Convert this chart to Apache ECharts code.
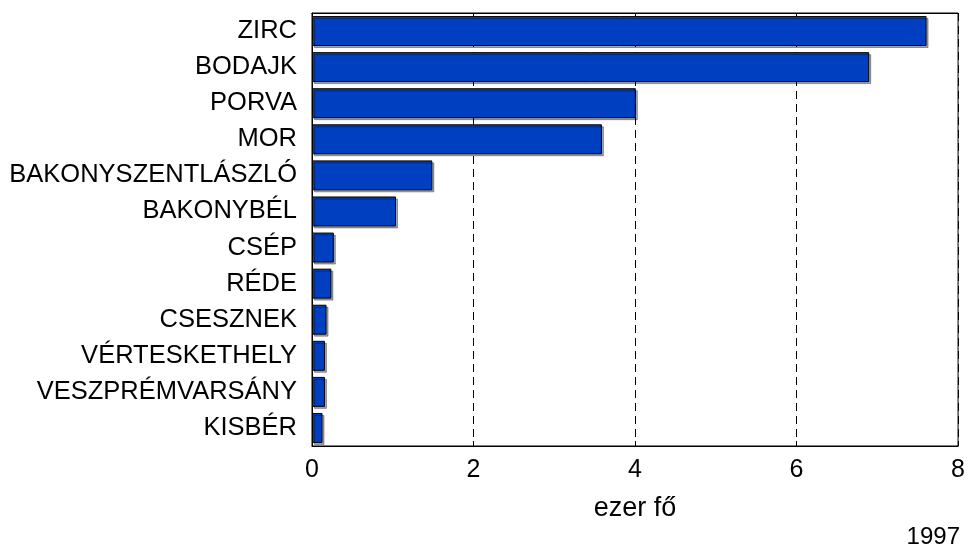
<!DOCTYPE html>
<html>
<head>
<meta charset="utf-8">
<script src="https://cdn.jsdelivr.net/npm/echarts@6/dist/echarts.min.js"></script>
<style>
  html, body { margin: 0; padding: 0; background: #fff; }
  #chart { width: 968px; height: 549px; }
</style>
</head>
<body>
<div id="chart"></div>
<script>
// települések, felülről lefelé
const places = ['ZIRC', 'BODAJK', 'PORVA', 'MOR', 'BAKONYSZENTLÁSZLÓ', 'BAKONYBÉL',
  'CSÉP', 'RÉDE', 'CSESZNEK', 'VÉRTESKETHELY', 'VESZPRÉMVARSÁNY', 'KISBÉR']
const values = [7.61, 6.9, 4.01, 3.59, 1.49, 1.04, 0.27, 0.24, 0.18, 0.16, 0.16, 0.13]
const xTicks = [0, 2, 4, 6, 8]
const axisTitle = 'ezer fő'
const yearNote = '1997'

const font = 'Liberation Sans, Arial, sans-serif'
const fs = 25
const chart = echarts.init(document.getElementById('chart'))
chart.setOption({
  animation: false,
  backgroundColor: '#fff',
  grid: { left: 312, right: 8, top: 13, bottom: 103, show: true, borderColor: '#000', borderWidth: 1 },
  graphic: [{
    type: 'text', right: 8, top: 525,
    style: { text: yearNote, font: '24px ' + font, fill: '#000' }
  }],
  xAxis: [{
    type: 'value',
    min: xTicks[0], max: xTicks[xTicks.length - 1], interval: 2,
    name: axisTitle, nameLocation: 'middle', nameGap: 49,
    nameTextStyle: { fontSize: 27, fontFamily: font, color: '#000' },
    axisLine: { show: true, lineStyle: { color: '#000' } },
    axisTick: { show: true, inside: true, length: 5, lineStyle: { color: '#000' } },
    axisLabel: { fontSize: fs, fontFamily: font, color: '#000', margin: 12 },
    splitLine: { show: true, lineStyle: { color: '#000', type: [8, 5], width: 1 } }
  }, {
    // felső keret kis osztásjelei
    type: 'value', position: 'top',
    min: xTicks[0], max: xTicks[xTicks.length - 1], interval: 2,
    axisLine: { show: true, lineStyle: { color: '#000' } },
    axisTick: { show: true, inside: true, length: 6, lineStyle: { color: '#000' } },
    axisLabel: { show: false },
    splitLine: { show: false }
  }],
  yAxis: {
    type: 'category',
    data: places,
    inverse: true,
    axisLine: { show: true, lineStyle: { color: '#000' } },
    axisTick: { show: false },
    axisLabel: { fontSize: 25.5, fontFamily: font, color: '#000', margin: 15 }
  },
  series: [{
    type: 'bar',
    data: values,
    barCategoryGap: '17%',
    itemStyle: {
      color: '#0040C0', borderColor: '#000', borderWidth: 1,
      shadowColor: 'rgba(0,0,0,0.35)', shadowOffsetX: 2, shadowOffsetY: 2, shadowBlur: 0
    }
  }]
})
</script>
</body>
</html>
